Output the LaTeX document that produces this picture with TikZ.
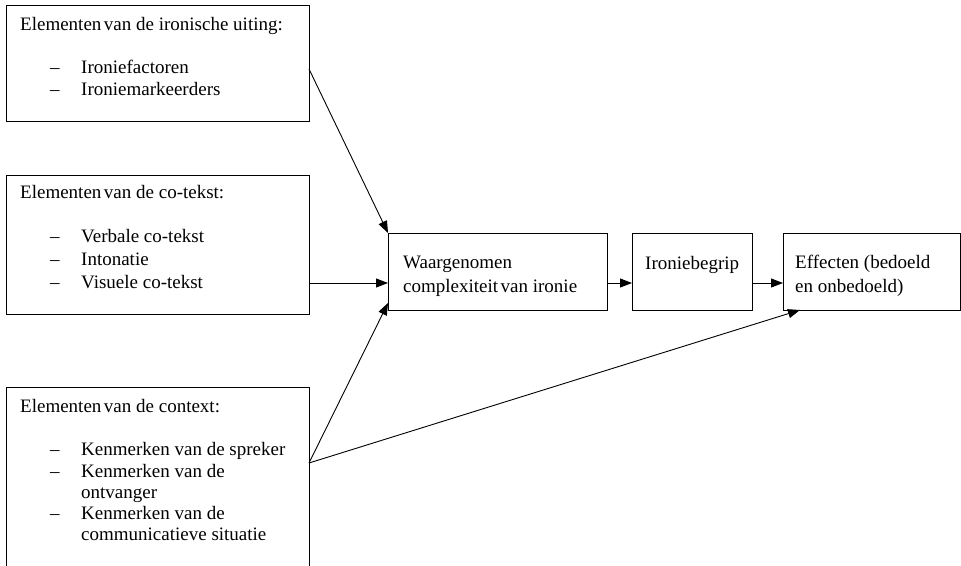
\documentclass[tikz,border=0pt]{standalone}
\usepackage{fontspec}
\setmainfont{Liberation Serif}
\usetikzlibrary{arrows.meta,calc}
\begin{document}
\begin{tikzpicture}[x=1pt,y=-1pt,
  box/.style={draw,line width=0.9pt,rectangle,inner sep=0pt,anchor=north west},
  txt/.style={anchor=base west,inner sep=0pt,font=\fontsize{19}{22}\selectfont},
  arr/.style={line width=0.9pt,-{Triangle[length=12pt,width=9pt]}}]
\useasboundingbox (0,0) rectangle (961,565);
% boxes
\node[box,minimum width=303pt,minimum height=116pt] (b1) at (6,5) {};
\node[box,minimum width=303pt,minimum height=139pt] (b2) at (6,175) {};
\node[box,minimum width=303pt,minimum height=200pt] (b3) at (6,387) {};
\node[box,minimum width=219pt,minimum height=77pt] (w) at (388,233) {};
\node[box,minimum width=120pt,minimum height=77pt] (i) at (632,233) {};
\node[box,minimum width=177pt,minimum height=77pt] (e) at (783,233) {};
% box 1 text
\node[txt] (t1) at (20,30) {Elementen\kern2.5pt van de ironische uiting:};
\node[txt] (d11) at (50,73) {–};
\node[txt] (t11) at (81,73) {Ironiefactoren};
\node[txt] (d12) at (50,95) {–};
\node[txt] (t12) at (81,95) {Ironiemarkeerders};
% box 2 text
\node[txt] (t2) at (20,198) {Elementen\kern2.5pt van de co-tekst:};
\node[txt] (d21) at (50,242) {–};
\node[txt] (t21) at (81,242) {Verbale co-tekst};
\node[txt] (d22) at (50,265) {–};
\node[txt] (t22) at (81,265) {Intonatie};
\node[txt] (d23) at (50,288) {–};
\node[txt] (t23) at (81,288) {Visuele co-tekst};
% box 3 text
\node[txt] (t3) at (20,412) {Elementen\kern2.5pt van de context:};
\node[txt] (d31) at (50,455) {–};
\node[txt] (t31) at (81,455) {Kenmerken van de spreker};
\node[txt] (d32) at (50,477) {–};
\node[txt] (t32) at (81,477) {Kenmerken van de};
\node[txt] (t33) at (81,498) {ontvanger};
\node[txt] (d34) at (50,519) {–};
\node[txt] (t34) at (81,519) {Kenmerken van de};
\node[txt] (t35) at (81,540) {communicatieve situatie};
% right boxes text
\node[txt] (tw1) at (403,268) {Waargenomen};
\node[txt] (tw2) at (403,292) {complexiteit\kern2.5pt van ironie};
\node[txt] (ti) at (645,269) {Ironiebegrip};
\node[txt] (te1) at (795,268) {Effecten (bedoeld};
\node[txt] (te2) at (795,292) {en onbedoeld)};
% connector anchors
\coordinate (s1) at (309,69);
\coordinate (s2) at (309,283);
\coordinate (s3) at (309,463);
\coordinate (tw) at (388,303);
\coordinate (te) at (800,310);
% connectors
\draw[arr] (s1) -- (w.north west);
\draw[arr] (s2) -- (s2 -| w.west);
\draw[arr] (s3) -- (tw);
\draw[arr] (s3) -- (te);
\draw[arr] (s2 -| w.east) -- (s2 -| i.west);
\draw[arr] (s2 -| i.east) -- (s2 -| e.west);
\end{tikzpicture}
\end{document}
